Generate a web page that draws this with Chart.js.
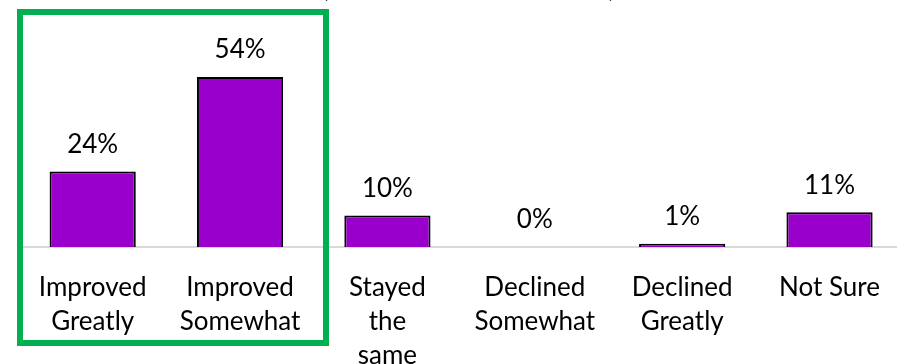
<!DOCTYPE html>
<html>
<head>
<meta charset="utf-8">
<script src="https://cdn.jsdelivr.net/npm/chart.js@4/dist/chart.umd.min.js"></script>
<style>
  html, body { margin: 0; padding: 0; background: #ffffff; overflow: hidden; }
  #wrap { width: 904px; height: 364px; }
</style>
</head>
<body>
<div id="wrap"><canvas id="chart" width="904" height="364"></canvas></div>
<script>
const categories = [
  ['Improved', 'Greatly'],
  ['Improved', 'Somewhat'],
  ['Stayed', 'the', 'same'],
  ['Declined', 'Somewhat'],
  ['Declined', 'Greatly'],
  ['Not Sure']
];
const percentages = [24, 54, 10, 0, 1, 11];

const fontFamily = "Lato, 'Open Sans', sans-serif";

// Percent labels above each bar
const valueLabels = {
  id: 'valueLabels',
  afterDatasetsDraw(chart) {
    const ctx = chart.ctx;
    const meta = chart.getDatasetMeta(0);
    ctx.save();
    ctx.fillStyle = '#000000';
    ctx.font = `26px ${fontFamily}`;
    ctx.textAlign = 'center';
    ctx.textBaseline = 'middle';
    meta.data.forEach((bar, i) => {
      ctx.fillText(percentages[i] + '%', bar.x, bar.y - 27);
    });
    ctx.restore();
  }
};

// Green highlight box round the two "Improved" bars, plus the clipped title tips
const highlight = {
  id: 'highlight',
  afterDraw(chart) {
    const ctx = chart.ctx;
    ctx.save();
    ctx.strokeStyle = '#00B050';
    ctx.lineWidth = 6;
    ctx.strokeRect(20, 12, 306, 331);
    ctx.fillStyle = '#000000';
    ctx.font = `26px ${fontFamily}`;
    ctx.textAlign = 'center';
    ctx.textBaseline = 'alphabetic';
    ctx.fillText('(', 325, -3);
    ctx.fillText(')', 612, -3);
    ctx.restore();
  }
};

new Chart(document.getElementById('chart'), {
  type: 'bar',
  data: {
    labels: categories,
    datasets: [{
      data: percentages,
      backgroundColor: '#9900CC',
      borderColor: '#000000',
      borderWidth: 2,
      barPercentage: 0.585,
      categoryPercentage: 1
    }]
  },
  options: {
    responsive: false,
    animation: false,
    layout: { padding: { top: 58, left: 19, right: 0, bottom: 0 } },
    plugins: {
      legend: { display: false },
      tooltip: { enabled: false }
    },
    scales: {
      x: {
        grid: { display: false, drawTicks: false },
        border: { display: true, color: '#D9D9D9', width: 2 },
        ticks: {
          color: '#000000',
          font: { family: fontFamily, size: 26, lineHeight: 1.3 },
          padding: 24,
          maxRotation: 0,
          autoSkip: false
        },
        afterFit(scale) { scale.height = 117; }
      },
      y: {
        display: false,
        min: 0,
        max: 60
      }
    }
  },
  plugins: [valueLabels, highlight]
});
</script>
</body>
</html>
